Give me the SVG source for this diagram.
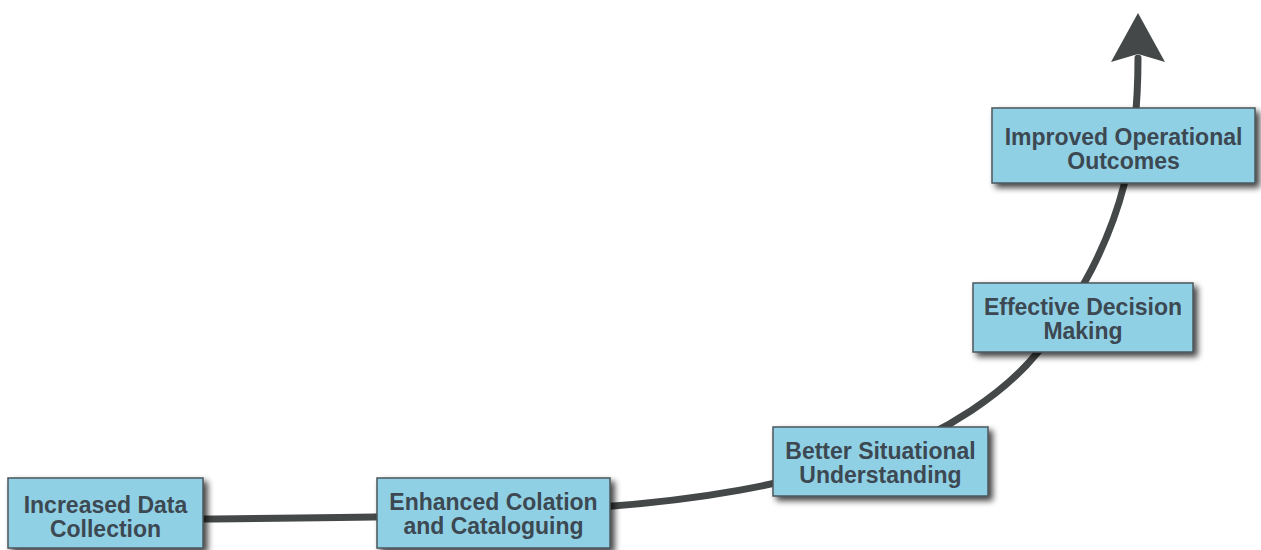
<svg xmlns="http://www.w3.org/2000/svg" width="1261" height="550" viewBox="0 0 1261 550">
  <style>
    .box { fill: #90d0e4; stroke: #4a565c; stroke-width: 1.5; filter: url(#shadow); }
    .label { font-family: "Liberation Sans", Arial, sans-serif; font-weight: bold; font-size: 23px; fill: #3c4852; text-anchor: middle; }
    .flow { fill: none; stroke: #454848; stroke-width: 7; stroke-linecap: round; }
  </style>
  <defs>
    <filter id="shadow" x="-10%" y="-20%" width="125%" height="150%">
      <feGaussianBlur in="SourceAlpha" stdDeviation="3"/>
      <feOffset dx="4" dy="4" result="blur"/>
      <feComponentTransfer><feFuncA type="linear" slope="0.75"/></feComponentTransfer>
      <feMerge><feMergeNode/><feMergeNode in="SourceGraphic"/></feMerge>
    </filter>
  </defs>
  <rect width="1261" height="550" fill="#ffffff"/>

  <!-- rising progress curve with arrowhead -->
  <g id="connectors">
    <path class="flow" d="M 200 519 C 300 518, 450 518, 600 507 C 700 500, 780 486, 880 456 C 945 433, 1005 393, 1038 352 C 1080 300, 1110 240, 1124 185 C 1133 150, 1138 110, 1138 58"/>
    <polygon points="1138,13 1165,62 1138,54 1111,62" fill="#454848"/>
  </g>

  <g id="node-data-collection">
    <rect class="box" x="8" y="478" width="195" height="70"/>
    <text class="label" x="105.5" y="513">Increased Data</text>
    <text class="label" x="105.5" y="537">Collection</text>
  </g>

  <g id="node-colation">
    <rect class="box" x="377" y="478" width="233" height="70"/>
    <text class="label" x="493.5" y="510">Enhanced Colation</text>
    <text class="label" x="493.5" y="534">and Cataloguing</text>
  </g>

  <g id="node-situational">
    <rect class="box" x="773" y="427" width="215" height="69"/>
    <text class="label" x="880.5" y="459">Better Situational</text>
    <text class="label" x="880.5" y="483">Understanding</text>
  </g>

  <g id="node-decision">
    <rect class="box" x="973" y="283" width="220" height="69"/>
    <text class="label" x="1083" y="315">Effective Decision</text>
    <text class="label" x="1083" y="339">Making</text>
  </g>

  <g id="node-outcomes">
    <rect class="box" x="992" y="108" width="263" height="75"/>
    <text class="label" x="1123.5" y="145">Improved Operational</text>
    <text class="label" x="1123.5" y="169">Outcomes</text>
  </g>
</svg>
